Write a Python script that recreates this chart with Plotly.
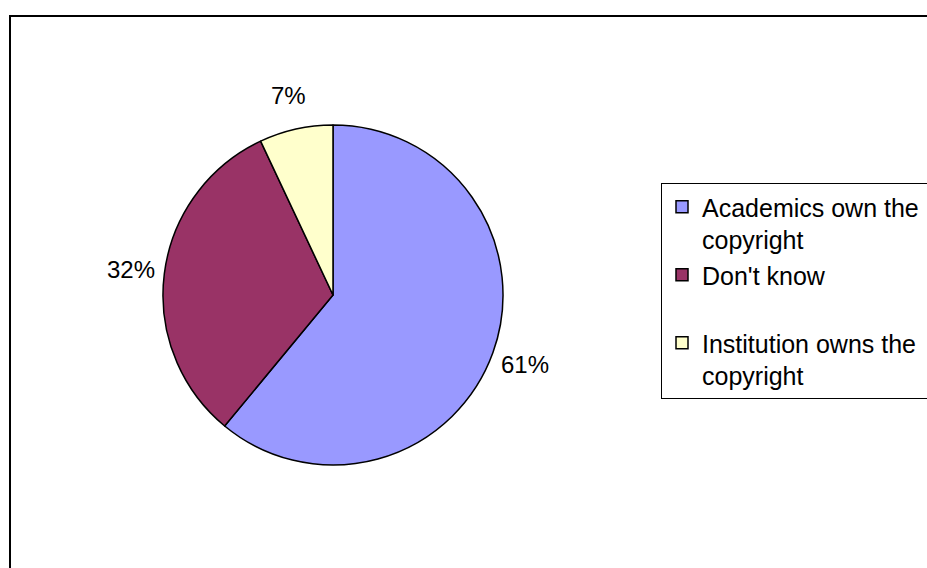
import math

import plotly.graph_objects as go

W, H = 927, 568

labels = [
    "Academics own the&nbsp;&nbsp;&nbsp;<br>copyright",
    "Don't know<br> ",
    "Institution owns the<br>copyright",
]
values = [61, 32, 7]
colors = ["#9999FF", "#993366", "#FFFFCC"]

# pie geometry, page pixels
cx, cy, r = 333, 295, 170
label_r = r + 34


def px(x):
    return x / W


def py(y):
    return 1 - y / H


fig = go.Figure(
    go.Pie(
        labels=labels,
        values=values,
        sort=False,
        direction="clockwise",
        rotation=0,
        marker=dict(colors=colors, line=dict(color="black", width=1.5)),
        textinfo="none",
        domain=dict(x=[px(cx - r), px(cx + r)], y=[py(cy + r), py(cy - r)]),
        hoverinfo="percent",
    )
)

# percentage labels placed outside each slice, at the slice mid-angle
total = sum(values)
cum = 0.0
for v in values:
    mid = (cum + v / 2) / total * 2 * math.pi
    cum += v
    fig.add_annotation(
        x=px(cx + label_r * math.sin(mid)),
        y=py(cy - label_r * math.cos(mid)),
        xref="paper",
        yref="paper",
        text=f"{round(v / total * 100)}%",
        showarrow=False,
        xanchor="center",
        yanchor="middle",
        font=dict(size=24, color="black"),
    )

# outer chart frame (right and bottom edges fall outside the page)
fig.add_shape(
    type="rect",
    xref="paper",
    yref="paper",
    x0=px(10),
    x1=1.05,
    y0=-0.05,
    y1=py(16),
    line=dict(color="black", width=2),
    fillcolor="rgba(0,0,0,0)",
)

fig.update_layout(
    width=W,
    height=H,
    margin=dict(l=0, r=0, t=0, b=0, autoexpand=False),
    paper_bgcolor="white",
    plot_bgcolor="white",
    font=dict(family="Liberation Sans, Arial", size=24, color="black"),
    showlegend=True,
    legend=dict(
        x=px(661),
        y=py(183),
        xanchor="left",
        yanchor="top",
        valign="top",
        bgcolor="white",
        bordercolor="black",
        borderwidth=1,
        font=dict(size=25),
        traceorder="normal",
    ),
)

# drop the browser's default body margin so the figure sits at the page corner
fig.write_html(
    "out.html",
    config={"displayModeBar": False},
    post_script="document.body.style.margin = '0';",
)
